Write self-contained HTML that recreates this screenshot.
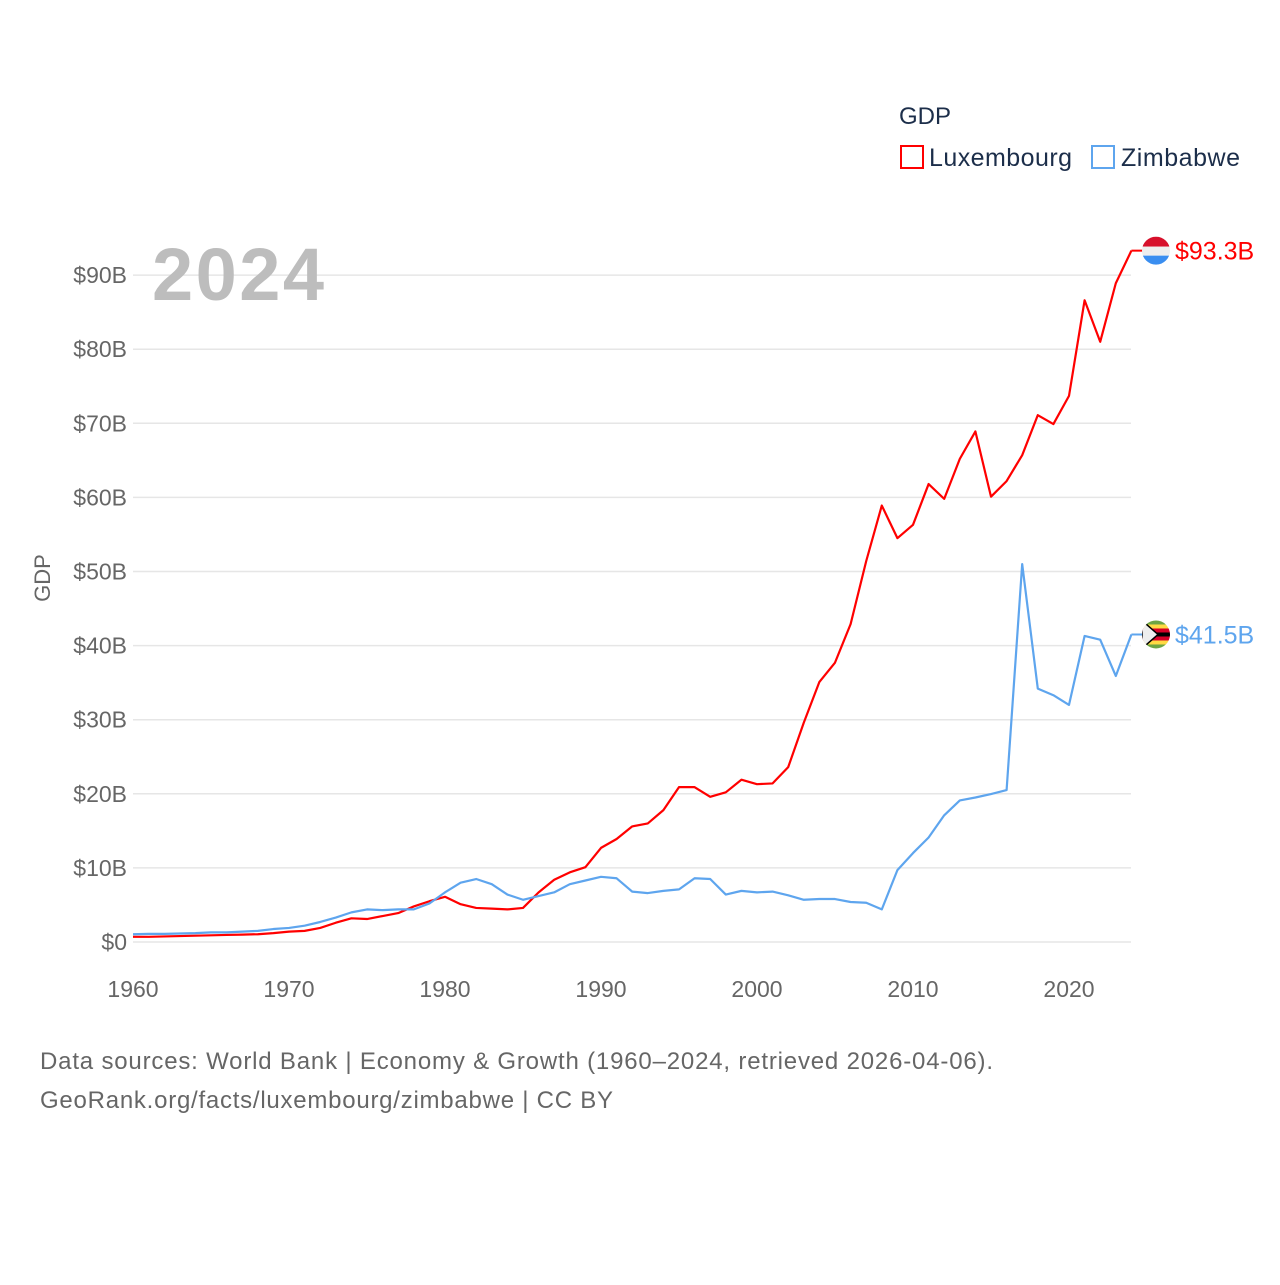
<!DOCTYPE html>
<html><head><meta charset="utf-8"><style>
body{margin:0;background:#fff;font-family:"Liberation Sans",sans-serif;}
svg text{font-family:"Liberation Sans",sans-serif;}
</style></head><body>
<svg id="chart" width="1280" height="1280" xmlns="http://www.w3.org/2000/svg">
<g>
<text x="899" y="124" font-size="24" fill="#1c2e4a">GDP</text>
<rect x="901" y="146" width="22" height="22" fill="none" stroke="#ff0000" stroke-width="2"/>
<text x="929" y="166" font-size="25" fill="#1c2e4a" textLength="143">Luxembourg</text>
<rect x="1092" y="146" width="22" height="22" fill="none" stroke="#5ea5ee" stroke-width="2"/>
<text x="1121" y="166" font-size="25" fill="#1c2e4a" textLength="119">Zimbabwe</text>
</g>
<g id="grid"></g>
<g id="yticks"></g>
<g id="xticks"></g>
<text x="152" y="300" font-size="74" font-weight="bold" fill="#bdbdbd" textLength="172">2024</text>
<text transform="translate(50,578) rotate(-90)" text-anchor="middle" font-size="22" fill="#666">GDP</text>
<g id="series"></g>
<g>
<text x="40" y="1069" font-size="24" fill="#666" textLength="953">Data sources: World Bank | Economy &amp; Growth (1960–2024, retrieved 2026-04-06).</text>
<text x="40" y="1108" font-size="24" fill="#666" textLength="573">GeoRank.org/facts/luxembourg/zimbabwe | CC BY</text>
</g>
</svg>
<script>
const years=[];for(let y=1960;y<=2024;y++)years.push(y);
const luxembourg=[0.7,0.7,0.75,0.8,0.85,0.9,0.95,1.0,1.05,1.2,1.4,1.5,1.9,2.6,3.2,3.1,3.5,3.9,4.8,5.5,6.1,5.1,4.6,4.5,4.4,4.6,6.7,8.4,9.4,10.1,12.7,13.9,15.6,16.0,17.8,20.9,20.9,19.6,20.2,21.9,21.3,21.4,23.6,29.6,35.1,37.7,42.9,51.4,58.9,54.5,56.3,61.8,59.8,65.2,68.9,60.1,62.2,65.7,71.1,69.9,73.7,86.6,81.0,88.9,93.3];
const zimbabwe=[1.05,1.1,1.1,1.15,1.2,1.3,1.3,1.4,1.5,1.75,1.9,2.2,2.7,3.3,4.0,4.4,4.3,4.4,4.4,5.2,6.7,8.0,8.5,7.8,6.4,5.7,6.2,6.7,7.8,8.3,8.8,8.6,6.8,6.6,6.9,7.1,8.6,8.5,6.4,6.9,6.7,6.8,6.3,5.7,5.8,5.8,5.4,5.3,4.4,9.7,12.0,14.1,17.1,19.1,19.5,19.96,20.5,51.0,34.2,33.3,32.0,41.3,40.8,35.9,41.5];
const yTicks=[0,10,20,30,40,50,60,70,80,90];
const xTicks=[1960,1970,1980,1990,2000,2010,2020];
const NS="http://www.w3.org/2000/svg";
const X=y=>133+(y-1960)*15.6;
const Y=v=>942-v*7.41;
function mk(t,a,p){const e=document.createElementNS(NS,t);for(const k in a)e.setAttribute(k,a[k]);p.appendChild(e);return e;}
const grid=document.getElementById('grid'),yt=document.getElementById('yticks'),xt=document.getElementById('xticks'),ser=document.getElementById('series');
yTicks.forEach(v=>{
const l=mk('line',{x1:133,x2:1131,y1:Y(v),y2:Y(v),stroke:'#e6e6e6','stroke-width':1.5},grid);


const t=mk('text',{x:127,y:Y(v)+8,'text-anchor':'end','font-size':23,fill:'#666'},yt);
t.textContent='$'+v+(v?'B':'');


});
xTicks.forEach(v=>{
const t=mk('text',{x:X(v),y:997,'text-anchor':'middle','font-size':23,fill:'#666'},xt);
t.textContent=v;


});
function line(d,c,name){
const p=mk('polyline',{points:d.map((v,i)=>X(years[i])+','+Y(v)).join(' '),fill:'none',stroke:c,'stroke-width':2.2,'stroke-linejoin':'round'},ser);


const last=d[d.length-1];
const e=mk('line',{x1:X(2024),x2:1145,y1:Y(last),y2:Y(last),stroke:c,'stroke-width':2},ser);


return Y(last);
}
const ly=line(luxembourg,'#ff0000','line-luxembourg');
const zy=line(zimbabwe,'#5ea5ee','line-zimbabwe');
const fl=mk('g',{},ser);


mk('defs',{},fl).innerHTML='<clipPath id="c1"><circle cx="1156" cy="'+ly+'" r="14"/></clipPath><clipPath id="c2"><circle cx="1156" cy="'+zy+'" r="14"/></clipPath>';
mk('rect',{x:1142,y:ly-14,width:28,height:10,fill:'#d7102b','clip-path':'url(#c1)'},fl);
mk('rect',{x:1142,y:ly-4,width:28,height:9,fill:'#eee','clip-path':'url(#c1)'},fl);
mk('rect',{x:1142,y:ly+5,width:28,height:10,fill:'#3a8ef0','clip-path':'url(#c1)'},fl);
const zf=mk('g',{'clip-path':'url(#c2)'},ser);


['#6da544','#ffda44','#d80027','#000','#d80027','#ffda44','#6da544'].forEach((c,i)=>mk('rect',{x:1142,y:zy-14+i*4,width:28,height:4.1,fill:c},zf));
mk('polygon',{points:`1142,${zy-14} 1158,${zy} 1142,${zy+14}`,fill:'#eee',stroke:'#000','stroke-width':1.5},zf);
const t1=mk('text',{x:1175,y:ly+9,'font-size':25,fill:'#ff0000'},ser);t1.textContent='$93.3B';


const t2=mk('text',{x:1175,y:zy+9,'font-size':25,fill:'#5ea5ee'},ser);t2.textContent='$41.5B';


</script>
</body></html>
